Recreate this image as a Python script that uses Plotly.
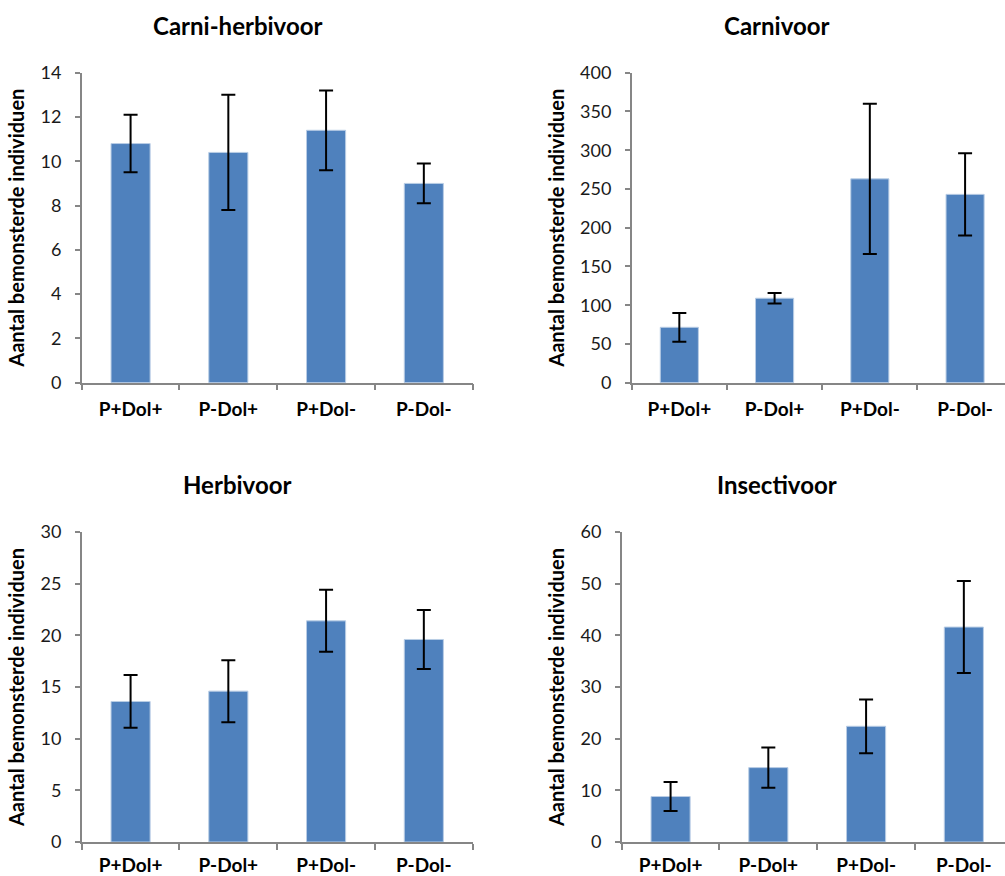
import plotly.graph_objects as go

categories = ["P+Dol+", "P-Dol+", "P+Dol-", "P-Dol-"]

titles = ["Carni-herbivoor", "Carnivoor", "Herbivoor", "Insectivoor"]

carni_herbivoor = [10.8, 10.4, 11.4, 9.0]
carni_herbivoor_err = [1.3, 2.6, 1.8, 0.9]

carnivoor = [71.5, 109, 263, 243]
carnivoor_err = [18.5, 6.7, 97, 53]

herbivoor = [13.6, 14.6, 21.4, 19.6]
herbivoor_err = [2.55, 3.0, 3.0, 2.85]

insectivoor = [8.8, 14.4, 22.4, 41.6]
insectivoor_err = [2.8, 3.9, 5.2, 8.9]

y_max = [14, 400, 30, 60]
y_dtick = [2, 50, 5, 10]

y_title = "Aantal bemonsterde individuen"

W, H = 1005, 876
FONT = "Lato"
BAR = "#4F81BD"
AXIS = "#868686"

# plot areas in pixels: (left, right_visible, top, bottom, x_range_max)
areas = [
    (81.7, 472.7, 72.7, 382.7, 3.5),
    (631.7, 1005, 72.7, 382.7, 3.419),
    (81.7, 472.7, 532, 842, 3.5),
    (621.7, 1005, 532, 842, 3.421),
]
title_x = [237, 777, 237, 777]
title_y = [25, 25, 484, 484]
xlabel_standoff = [9, 9, 5, 5]

series = [
    (carni_herbivoor, carni_herbivoor_err),
    (carnivoor, carnivoor_err),
    (herbivoor, herbivoor_err),
    (insectivoor, insectivoor_err),
]

fig = go.Figure()
layout = dict(
    width=W, height=H,
    margin=dict(l=0, r=0, t=0, b=0, autoexpand=False),
    paper_bgcolor="white", plot_bgcolor="white",
    showlegend=False,
    font=dict(family=FONT, color="#1a1a1a", size=18),
    annotations=[],
)

for i, ((vals, errs), (l, r, t, b, xmax)) in enumerate(zip(series, areas)):
    n = "" if i == 0 else str(i + 1)
    fig.add_trace(go.Bar(
        x=categories, y=vals,
        xaxis="x" + n, yaxis="y" + n,
        width=0.4,
        marker=dict(color=BAR, line=dict(color="#B9CDE5", width=1)),
        error_y=dict(type="data", array=errs, visible=True,
                     color="black", thickness=2, width=7),
    ))
    layout["xaxis" + n] = dict(
        domain=[l / W, r / W], anchor="y" + n,
        type="category", range=[-0.5, xmax],
        showline=True, linecolor=AXIS, linewidth=1.5,
        ticks="outside", tickson="boundaries", ticklen=6, tickcolor=AXIS,
        tickwidth=1.5, ticklabelstandoff=xlabel_standoff[i],
        tickfont=dict(family=FONT, size=19, color="#000000", weight="bold"),
        showgrid=False, zeroline=False, fixedrange=True, automargin=False,
    )
    layout["yaxis" + n] = dict(
        domain=[1 - b / H, 1 - t / H], anchor="x" + n,
        range=[0, y_max[i]], dtick=y_dtick[i], tick0=0,
        showline=True, linecolor=AXIS, linewidth=1.5,
        ticks="outside", ticklen=5, tickcolor=AXIS, tickwidth=1.5,
        ticklabelstandoff=10,
        tickfont=dict(family=FONT, size=18, color="#1a1a1a"),
        showgrid=False, zeroline=False, automargin=False,
        title=dict(text=y_title, font=dict(family=FONT, size=20,
                                           color="#000000", weight="bold"),
                   standoff=10),
    )
    layout["annotations"].append(dict(
        text="<b>" + titles[i] + "</b>",
        xref="paper", yref="paper",
        x=title_x[i] / W, y=1 - title_y[i] / H,
        xanchor="center", yanchor="middle", showarrow=False,
        font=dict(family=FONT, size=24, color="#000000"),
    ))

fig.update_layout(**layout)
fig.write_html("out.html")
